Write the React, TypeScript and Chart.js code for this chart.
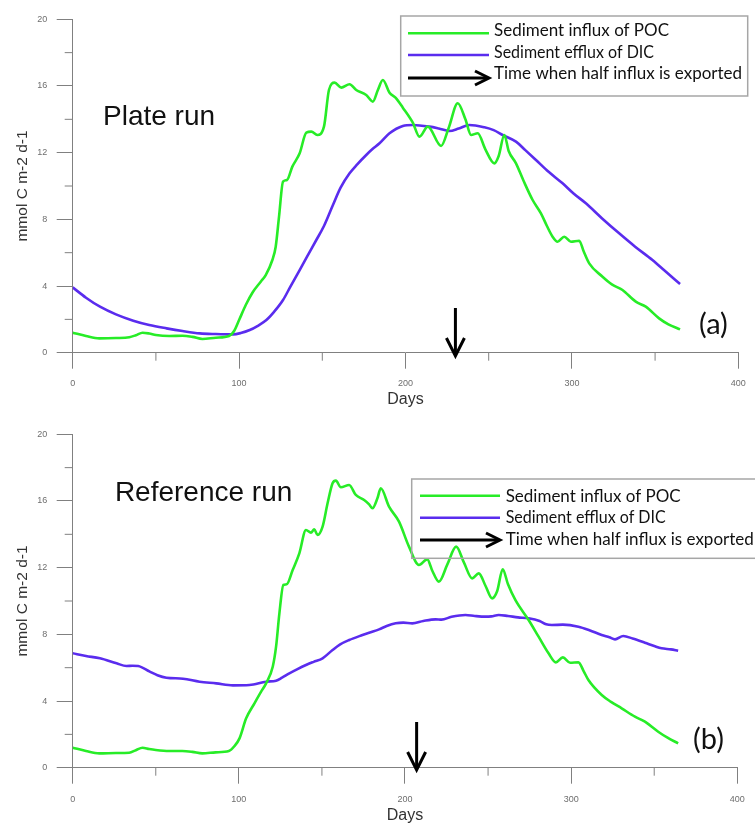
import React, { useEffect, useRef } from 'react';
import { Chart, registerables } from 'chart.js';

Chart.register(...registerables);

// ---------- data ----------
const plateDaysPOC = [0, 8, 16, 26, 34, 38, 42, 46, 50, 58, 66, 72, 78, 86, 94, 97, 100, 104, 108, 113, 116, 120, 122, 124, 126.4, 128.8, 132, 136.4, 140.4, 143.4, 147, 151, 154, 157.4, 161.4, 166.4, 170.4, 176.4, 180.4, 183.4, 186.4, 190.4, 194, 198.4, 204.4, 208.4, 213.4, 221.4, 226, 231.4, 236, 239.4, 243.4, 248, 253.4, 256, 259.4, 262, 266.4, 271, 276.4, 281.4, 285, 288.4, 291.4, 295.4, 299.4, 304.4, 307, 310.4, 318.4, 324, 330.4, 338.4, 344.4, 352.4, 358, 365];
const platePOC = [1.2, 1.0, 0.86, 0.88, 0.93, 1.05, 1.2, 1.15, 1.06, 1.0, 1.02, 0.95, 0.82, 0.9, 1.0, 1.3, 1.96, 2.86, 3.6, 4.26, 4.66, 5.56, 6.36, 8.16, 10.26, 10.36, 11.16, 11.96, 13.2, 13.26, 13.06, 13.56, 15.76, 16.2, 15.9, 16.1, 15.76, 15.46, 15.06, 15.76, 16.36, 15.6, 15.3, 14.7, 13.8, 12.96, 13.56, 12.4, 13.5, 14.96, 14.0, 13.06, 13.16, 12.2, 11.36, 11.8, 13.06, 12.1, 11.36, 10.3, 9.16, 8.36, 7.6, 6.96, 6.66, 6.96, 6.66, 6.72, 6.1, 5.36, 4.56, 4.1, 3.76, 3.06, 2.76, 2.06, 1.7, 1.4];

const plateDaysDIC = [0, 8, 16.4, 26, 36.4, 46, 56.4, 66, 76.4, 86, 96.4, 101, 106.4, 111, 116.4, 121, 126.4, 131, 136.4, 141, 146.4, 151, 156.4, 161, 166.4, 171, 176.4, 180, 184.4, 190.4, 198.4, 204.4, 214.4, 220, 226.4, 232, 238.4, 247.4, 253, 258.4, 266.4, 272, 278.4, 286, 294.4, 301, 308.4, 318, 328.4, 338, 348.4, 356, 365];
const plateDIC = [3.92, 3.3, 2.76, 2.3, 1.92, 1.66, 1.46, 1.3, 1.16, 1.12, 1.1, 1.18, 1.36, 1.6, 1.96, 2.45, 3.16, 4.0, 4.96, 5.8, 6.76, 7.6, 8.86, 9.9, 10.76, 11.3, 11.86, 12.2, 12.56, 13.16, 13.6, 13.66, 13.56, 13.45, 13.3, 13.45, 13.66, 13.52, 13.35, 13.06, 12.66, 12.15, 11.56, 10.85, 10.16, 9.55, 8.96, 8.07, 7.16, 6.36, 5.56, 4.9, 4.12];

const refDaysPOC = [0, 8, 16, 26, 34, 38, 42, 46, 50, 58, 66, 72, 78, 86, 94, 97.4, 100.4, 104.4, 109.4, 113.4, 116.4, 120.4, 122.4, 124.4, 126.8, 128.8, 132.4, 136.4, 140.4, 143.4, 145.4, 147.4, 150.4, 153.4, 156.4, 158.4, 161.4, 166.4, 170.4, 175.4, 178.4, 180.4, 183.4, 185.4, 190.4, 196.4, 202.4, 208.4, 213.4, 216.5, 220.4, 225.5, 230.8, 235.5, 240.4, 244.4, 248.5, 252.4, 255.5, 258.8, 262, 266.4, 274.4, 280.4, 286.4, 290.8, 295, 299.4, 304.4, 307.5, 310.4, 318.4, 324, 330.4, 338.4, 344.4, 352.4, 358, 364.4];
const refPOC = [1.2, 1.0, 0.86, 0.88, 0.9, 1.05, 1.2, 1.12, 1.06, 1.0, 1.0, 0.95, 0.86, 0.92, 1.0, 1.3, 1.76, 2.96, 3.86, 4.56, 5.06, 6.06, 7.26, 9.26, 10.96, 11.0, 11.86, 12.86, 14.26, 14.1, 14.3, 13.96, 14.46, 15.86, 17.06, 17.22, 16.82, 16.96, 16.36, 16.06, 15.8, 15.56, 16.16, 16.76, 15.66, 14.76, 13.26, 12.16, 12.5, 11.8, 11.16, 12.2, 13.26, 12.3, 11.36, 11.66, 10.9, 10.16, 10.6, 11.9, 11.0, 10.06, 8.86, 7.86, 6.86, 6.32, 6.62, 6.3, 6.32, 5.8, 5.26, 4.36, 3.95, 3.56, 3.06, 2.76, 2.16, 1.8, 1.46];

const refDaysDIC = [0, 8, 16.4, 26.4, 32.4, 36, 39.4, 46.4, 51, 56.4, 66.4, 76.4, 86.4, 96.4, 106.4, 116.4, 122.4, 126, 130.4, 135, 140.4, 145, 150.4, 156.4, 161, 166.4, 174.4, 178.4, 184.4, 189, 194.4, 199, 204.4, 211, 218.4, 222, 228, 236.4, 242, 248.4, 252, 256.4, 262, 268, 274.4, 281, 285, 288.4, 295, 304.4, 311, 318.4, 323, 326.4, 331.4, 337, 344.4, 350, 354.4, 360, 364.4];
const refDIC = [6.86, 6.7, 6.56, 6.26, 6.1, 6.12, 6.1, 5.76, 5.55, 5.4, 5.34, 5.16, 5.06, 4.94, 4.96, 5.16, 5.22, 5.4, 5.66, 5.9, 6.16, 6.35, 6.56, 7.06, 7.4, 7.66, 7.96, 8.1, 8.3, 8.5, 8.66, 8.7, 8.66, 8.8, 8.9, 8.88, 9.05, 9.16, 9.1, 9.06, 9.08, 9.16, 9.1, 9.02, 8.96, 8.8, 8.6, 8.56, 8.58, 8.46, 8.25, 7.96, 7.82, 7.7, 7.9, 7.75, 7.5, 7.3, 7.16, 7.1, 7.02];

// day when half of the influx has been exported (arrow marker)
const plateHalfExportDay = 230;
const refHalfExportDay = 207;

const seriesLabels = ['Sediment influx of POC', 'Sediment efflux of DIC', 'Time when half influx is exported'];
const xMinorTicks = [50, 150, 250, 350];
const yMinorTicks = [2, 6, 10, 14, 18];

// ---------- styles ----------
const GREEN = '#27ec27';
const PURPLE = '#5a2cee';
const AXIS = '#808080';
const SANS = '"Liberation Sans", Arial, sans-serif';
const CAL = 'Lato, "Open Sans", sans-serif';

type PanelSpec = {
  pocDays: number[]; poc: number[]; dicDays: number[]; dic: number[];
  runLabel: string; runLabelPos: [number, number];
  letter: string; letterPos: [number, number];
  arrowDay: number; arrowTip: number;
  padTop: number; xHeight: number; xTickPad: number; daysPad: number;
  legend: { x: number; y: number; w: number; h: number; lx0: number; lx1: number; tx: number; rows: number[]; base: number[] };
};

const annotate = {
  id: 'annotate',
  afterDraw(chart: any, _a: any, opts: any) {
    const spec: PanelSpec = opts.spec;
    if (!spec) return;
    const { ctx, chartArea } = chart;
    const x = chart.scales.x;
    const y = chart.scales.y;
    ctx.save();
    // minor ticks
    ctx.strokeStyle = AXIS;
    ctx.lineWidth = 1;
    for (const v of xMinorTicks) {
      const px = x.getPixelForValue(v);
      ctx.beginPath(); ctx.moveTo(px, chartArea.bottom); ctx.lineTo(px, chartArea.bottom + 8); ctx.stroke();
    }
    for (const v of yMinorTicks) {
      const py = y.getPixelForValue(v);
      ctx.beginPath(); ctx.moveTo(chartArea.left - 8, py); ctx.lineTo(chartArea.left, py); ctx.stroke();
    }
    // run label
    ctx.fillStyle = '#111';
    ctx.textAlign = 'left';
    ctx.textBaseline = 'alphabetic';
    ctx.font = `28px ${SANS}`;
    ctx.fillText(spec.runLabel, x.getPixelForValue(spec.runLabelPos[0]), y.getPixelForValue(spec.runLabelPos[1]));
    // panel letter
    ctx.font = `29px ${CAL}`;
    ctx.fillText(spec.letter, x.getPixelForValue(spec.letterPos[0]), y.getPixelForValue(spec.letterPos[1]));
    // vertical arrow at half-export day
    const ax = x.getPixelForValue(spec.arrowDay);
    const tip = chartArea.bottom + spec.arrowTip;
    ctx.strokeStyle = '#000';
    ctx.lineWidth = 3;
    ctx.lineCap = 'butt';
    ctx.beginPath(); ctx.moveTo(ax, tip - 48); ctx.lineTo(ax, tip - 1); ctx.stroke();
    ctx.beginPath(); ctx.moveTo(ax - 9, tip - 18); ctx.lineTo(ax, tip); ctx.lineTo(ax + 9, tip - 18); ctx.stroke();
    // legend
    const L = spec.legend;
    ctx.strokeStyle = '#a6a6a6';
    ctx.lineWidth = 1.5;
    ctx.strokeRect(L.x, L.y, L.w, L.h);
    const colors = [GREEN, PURPLE];
    for (let i = 0; i < 3; i++) {
      const ry = L.rows[i];
      if (i < 2) {
        ctx.strokeStyle = colors[i];
        ctx.lineWidth = 2.5;
        ctx.beginPath(); ctx.moveTo(L.lx0, ry); ctx.lineTo(L.lx1, ry); ctx.stroke();
      } else {
        ctx.strokeStyle = '#000';
        ctx.lineWidth = 3;
        ctx.beginPath(); ctx.moveTo(L.lx0, ry); ctx.lineTo(L.lx1 - 2, ry); ctx.stroke();
        ctx.beginPath(); ctx.moveTo(L.lx1 - 14, ry - 7); ctx.lineTo(L.lx1, ry); ctx.lineTo(L.lx1 - 14, ry + 7); ctx.stroke();
      }
      ctx.fillStyle = '#111';
      ctx.font = `17px ${CAL}`;
      const maxW = i === 0 ? 175 : i === 1 ? 160 : 249;
      ctx.fillText(seriesLabels[i], L.tx, L.base[i], maxW);
    }
    ctx.restore();
  },
};

function makeConfig(s: PanelSpec): any {
  const pts = (d: number[], v: number[]) => d.map((dd, i) => ({ x: dd, y: v[i] }));
  return {
    type: 'line',
    data: {
      datasets: [
        { label: seriesLabels[0], data: pts(s.pocDays, s.poc), borderColor: GREEN, borderWidth: 2.6, pointRadius: 0, fill: false, cubicInterpolationMode: 'monotone' },
        { label: seriesLabels[1], data: pts(s.dicDays, s.dic), borderColor: PURPLE, borderWidth: 2.6, pointRadius: 0, fill: false, cubicInterpolationMode: 'monotone' },
      ],
    },
    options: {
      animation: false,
      responsive: false,
      events: [],
      layout: { padding: { left: 0, right: 15.7, top: s.padTop, bottom: 0 } },
      plugins: { legend: { display: false }, tooltip: { enabled: false }, annotate: { spec: s } },
      scales: {
        x: {
          type: 'linear', min: 0, max: 400,
          ticks: { stepSize: 100, color: '#6e6e6e', font: { size: 9, family: SANS }, padding: s.xTickPad, maxRotation: 0 },
          grid: { drawOnChartArea: false, tickLength: 16, tickColor: AXIS, color: AXIS },
          border: { color: AXIS, width: 1 },
          title: { display: true, text: 'Days', color: '#333', font: { size: 16, family: SANS, lineHeight: 1.1 }, padding: { top: 0, bottom: s.daysPad } },
          afterFit: (sc: any) => { sc.height = s.xHeight; },
        },
        y: {
          type: 'linear', min: 0, max: 20,
          ticks: { stepSize: 4, color: '#6e6e6e', font: { size: 9, family: SANS }, padding: 9.4 },
          grid: { drawOnChartArea: false, tickLength: 16, tickColor: AXIS, color: AXIS },
          border: { color: AXIS, width: 1 },
          title: { display: true, text: 'mmol C m-2 d-1', color: '#333', font: { size: 15.5, family: SANS, lineHeight: 1.2 }, padding: { top: 13.7, bottom: 0 } },
          afterFit: (sc: any) => { sc.width = 72.7; },
        },
      },
    },
    plugins: [annotate],
  };
}

const plateSpec: PanelSpec = {
  pocDays: plateDaysPOC, poc: platePOC, dicDays: plateDaysDIC, dic: plateDIC,
  runLabel: 'Plate run', runLabelPos: [18.2, 13.66],
  letter: '(a)', letterPos: [376.4, 1.12],
  arrowDay: plateHalfExportDay, arrowTip: 3.3,
  padTop: 19.3, xHeight: 59.3, xTickPad: 9.2, daysPad: 3.4,
  legend: { x: 400.7, y: 16, w: 347, h: 80, lx0: 408, lx1: 489, tx: 494, rows: [33.3, 55, 78], base: [36, 57.5, 79] },
};

const refSpec: PanelSpec = {
  pocDays: refDaysPOC, poc: refPOC, dicDays: refDaysDIC, dic: refDIC,
  runLabel: 'Reference run', runLabelPos: [25.4, 16.0],
  letter: '(b)', letterPos: [373.4, 1.12],
  arrowDay: refHalfExportDay, arrowTip: 2.3,
  padTop: 22.3, xHeight: 56.3, xTickPad: 10.2, daysPad: 0,
  legend: { x: 411.7, y: 67, w: 360, h: 79.3, lx0: 420, lx1: 500, tx: 505.7, rows: [83.7, 105.7, 128], base: [89.7, 111.3, 133] },
};

function Panel({ spec }: { spec: PanelSpec }) {
  const ref = useRef<HTMLCanvasElement>(null);
  useEffect(() => {
    const chart = new Chart(ref.current as HTMLCanvasElement, makeConfig(spec));
    return () => chart.destroy();
  }, [spec]);
  return <canvas ref={ref} width={755} height={412} style={{ display: 'block', width: 755, height: 412 }} />;
}

export default function App() {
  return (
    <div style={{ position: 'absolute', left: 0, top: 0, width: 755, height: 824, background: '#fff', overflow: 'hidden' }}>
      <Panel spec={plateSpec} />
      <Panel spec={refSpec} />
    </div>
  );
}
